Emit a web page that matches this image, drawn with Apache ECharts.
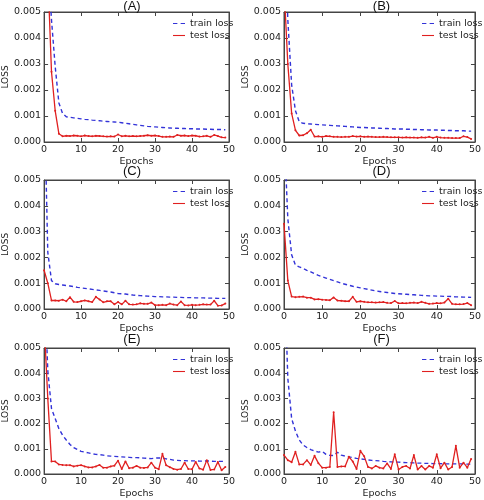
<!DOCTYPE html>
<html>
<head>
<meta charset="utf-8">
<script src="https://cdn.jsdelivr.net/npm/echarts@6/dist/echarts.min.js"></script>
<style>html,body{margin:0;padding:0;background:#fff}#c{width:484px;height:500px}</style>
</head>
<body>
<div id="c"></div>
<script>
const epochs = Array.from({length: 50}, (_, i) => i);
const panelTitles = ['(A)', '(B)', '(C)', '(D)', '(E)', '(F)'];
const xTicks = [0, 10, 20, 30, 40, 50];
const yTicks = [0.000, 0.001, 0.002, 0.003, 0.004, 0.005];

const trainA = [0.012,0.007,0.0047,0.0029,0.0015,0.0011,0.00097,0.00095,0.00093,0.00091,0.00089,0.00087,0.00086,0.00084,0.00083,0.00082,0.0008,0.00079,0.00078,0.00077,0.00076,0.00074,0.00072,0.0007,0.00068,0.00066,0.00064,0.00062,0.0006,0.00059,0.00058,0.00057,0.00056,0.00055,0.00054,0.00053,0.00053,0.00052,0.00052,0.00051,0.00051,0.0005,0.0005,0.0005,0.00049,0.00049,0.00048,0.00048,0.00048,0.00047];
const testA = [0.015,0.0065,0.0027,0.0012,0.00032,0.00022,0.00024,0.00023,0.00025,0.00024,0.00022,0.00025,0.00023,0.00022,0.00024,0.00023,0.00022,0.00021,0.00022,0.00021,0.00029,0.00022,0.00024,0.00022,0.00023,0.00022,0.00023,0.00024,0.00026,0.00024,0.00025,0.00023,0.0002,0.0002,0.00021,0.0002,0.00027,0.00024,0.00025,0.00023,0.00025,0.00024,0.00021,0.00022,0.00024,0.0002,0.00027,0.00023,0.00018,0.00017];

const trainB = [0.009,0.0047,0.0022,0.0012,0.00078,0.00072,0.0007,0.00069,0.00068,0.00067,0.00066,0.00065,0.00064,0.00063,0.00062,0.00061,0.0006,0.00059,0.00058,0.00057,0.00056,0.00056,0.00055,0.00054,0.00054,0.00053,0.00052,0.00052,0.00051,0.0005,0.0005,0.0005,0.00049,0.00049,0.00048,0.00048,0.00047,0.00047,0.00046,0.00046,0.00046,0.00045,0.00045,0.00044,0.00044,0.00043,0.00043,0.00043,0.00042,0.00042];
const testB = [0.006,0.003,0.0011,0.00045,0.00025,0.00026,0.00034,0.00047,0.00021,0.00022,0.0002,0.00023,0.00022,0.0002,0.0002,0.00019,0.0002,0.0002,0.00023,0.00021,0.00022,0.0002,0.00021,0.0002,0.00019,0.00019,0.0002,0.00019,0.00018,0.00018,0.00018,0.00017,0.00018,0.00017,0.00017,0.00016,0.00018,0.00017,0.0002,0.00016,0.0002,0.00017,0.00016,0.00016,0.00015,0.00015,0.00015,0.00022,0.00019,0.00012];

const trainC = [0.0085,0.0022,0.0011,0.00098,0.00095,0.00093,0.00091,0.00089,0.00087,0.00084,0.00082,0.0008,0.00078,0.00076,0.00074,0.00072,0.0007,0.00068,0.00066,0.00063,0.0006,0.00059,0.00058,0.00056,0.00054,0.00053,0.00052,0.00051,0.0005,0.00049,0.00048,0.00048,0.00047,0.00047,0.00046,0.00046,0.00045,0.00045,0.00044,0.00044,0.00044,0.00043,0.00043,0.00043,0.00042,0.00042,0.00042,0.00041,0.00041,0.00041];
const testC = [0.0015,0.001,0.00033,0.00033,0.00032,0.00036,0.0003,0.00046,0.00028,0.00027,0.0003,0.00033,0.0003,0.00027,0.00047,0.00037,0.00026,0.0003,0.0003,0.00018,0.00027,0.00018,0.00032,0.00018,0.00017,0.00018,0.00022,0.0002,0.0002,0.00025,0.00015,0.00015,0.00016,0.00015,0.00021,0.00017,0.00015,0.00029,0.00015,0.00014,0.00016,0.00015,0.00016,0.00018,0.00017,0.00017,0.00032,0.00013,0.00014,0.00021];

const trainD = [0.007,0.0035,0.0021,0.0017,0.00163,0.00157,0.0015,0.00144,0.00137,0.0013,0.00125,0.0012,0.00115,0.0011,0.00105,0.001,0.00096,0.00092,0.00088,0.00085,0.00082,0.00079,0.00076,0.00073,0.0007,0.00068,0.00066,0.00064,0.00062,0.0006,0.00059,0.00058,0.00057,0.00056,0.00055,0.00054,0.00053,0.00052,0.00051,0.00051,0.0005,0.0005,0.00049,0.00049,0.00048,0.00047,0.00047,0.00046,0.00046,0.00045];
const testD = [0.0033,0.0011,0.00048,0.00046,0.00047,0.00048,0.00044,0.00044,0.00037,0.00038,0.00036,0.00035,0.00034,0.00045,0.00033,0.00032,0.0003,0.0003,0.00047,0.00028,0.0003,0.00028,0.00026,0.00026,0.00025,0.00026,0.00027,0.00024,0.00023,0.00031,0.00022,0.00023,0.00022,0.00024,0.00025,0.00023,0.00028,0.00024,0.0002,0.00021,0.00023,0.00022,0.00025,0.0004,0.0002,0.00018,0.00018,0.00019,0.00023,0.00015];

const trainE = [0.008,0.0041,0.0026,0.0022,0.0018,0.00154,0.00135,0.00117,0.00105,0.00097,0.0009,0.00087,0.00084,0.0008,0.00078,0.00077,0.00075,0.00072,0.00071,0.0007,0.00069,0.00068,0.00067,0.00066,0.00065,0.00065,0.00064,0.00063,0.00062,0.00061,0.00063,0.00064,0.00063,0.0006,0.00058,0.00055,0.00054,0.00053,0.00053,0.00052,0.00052,0.00052,0.00051,0.00051,0.00052,0.00051,0.0005,0.0005,0.0005,0.0005];
const testE = [0.006,0.003,0.0005,0.0005,0.00038,0.00036,0.00035,0.00035,0.0003,0.00033,0.00035,0.0003,0.00026,0.00026,0.0003,0.00036,0.00025,0.00025,0.0003,0.00033,0.00053,0.0002,0.0005,0.00023,0.00025,0.00032,0.00025,0.00024,0.00026,0.00045,0.00025,0.00019,0.0008,0.00035,0.00027,0.0002,0.00017,0.0002,0.00045,0.0002,0.00019,0.00048,0.00022,0.00017,0.00055,0.00016,0.00018,0.00048,0.00015,0.00028];

const trainF = [0.0085,0.0038,0.0022,0.0017,0.00135,0.00115,0.00105,0.00097,0.00091,0.00087,0.0009,0.00078,0.00074,0.00073,0.00086,0.00075,0.00071,0.00068,0.00065,0.00062,0.0006,0.00058,0.00056,0.00054,0.00053,0.00052,0.0005,0.00049,0.00048,0.00047,0.00047,0.00046,0.00045,0.00045,0.00044,0.00043,0.00043,0.00042,0.00042,0.00041,0.00041,0.00041,0.0004,0.0004,0.0004,0.0004,0.0004,0.0004,0.00039,0.00039];
const testF = [0.00075,0.00055,0.00047,0.00088,0.00038,0.00038,0.00055,0.00036,0.00072,0.00043,0.00025,0.00025,0.00028,0.00245,0.00028,0.0003,0.0003,0.00068,0.0005,0.0002,0.00092,0.0007,0.00028,0.00022,0.00032,0.00025,0.00022,0.00042,0.0002,0.00078,0.00018,0.00028,0.00032,0.00022,0.00075,0.00018,0.00032,0.00018,0.00032,0.00025,0.00078,0.00023,0.00045,0.00018,0.00028,0.00112,0.00025,0.00045,0.00025,0.0006];

const trainSets = [trainA, trainB, trainC, trainD, trainE, trainF];
const testSets = [testA, testB, testC, testD, testE, testF];

const grids = [
  {left: 35, top: 12, width: 194, height: 130},
  {left: 284, top: 12, width: 195, height: 130},
  {left: 35, top: 180, width: 194, height: 129},
  {left: 284, top: 180, width: 195, height: 129},
  {left: 35, top: 348, width: 194, height: 130},
  {left: 284, top: 348, width: 195, height: 130}
];

const FONT = 'DejaVu Sans';
const axisCol = '#444';
const blue = '#3333d8';
const red = '#e02020';

const option = {
  animation: false,
  backgroundColor: '#fff',
  textStyle: {fontFamily: FONT},
  title: [], grid: [], xAxis: [], yAxis: [], series: [], legend: []
};

grids.forEach((g, i) => {
  option.grid.push({left: g.left, top: g.top, width: g.width, height: g.height, show: true, borderColor: axisCol, borderWidth: 1, containLabel: false});
  option.title.push({text: panelTitles[i], left: g.left + g.width / 2, top: Math.max(0, g.top - 15), textAlign: 'center', padding: 0,
    textStyle: {fontFamily: 'Liberation Sans', fontSize: 13, fontWeight: 'normal', color: '#111'}});
  option.xAxis.push({type: 'value', gridIndex: i, min: 0, max: 50, interval: 10, position: 'bottom',
    name: 'Epochs', nameLocation: 'middle', nameGap: 15,
    nameTextStyle: {fontFamily: FONT, fontSize: 9.5, color: '#222'},
    axisLine: {show: true, onZero: false, lineStyle: {color: axisCol}},
    axisTick: {show: true, inside: true, length: 4, lineStyle: {color: axisCol}},
    axisLabel: {show: true, fontSize: 9.5, color: '#222', margin: 3, fontFamily: FONT},
    splitLine: {show: false}});
  option.xAxis.push({type: 'value', gridIndex: i, min: 0, max: 50, interval: 10, position: 'top',
    axisLine: {show: true, onZero: false, lineStyle: {color: axisCol}},
    axisTick: {show: true, inside: true, length: 4, lineStyle: {color: axisCol}},
    axisLabel: {show: false}, splitLine: {show: false}});
  option.yAxis.push({type: 'value', gridIndex: i, min: 0, max: 0.005, interval: 0.001, position: 'left',
    name: 'LOSS', nameLocation: 'middle', nameGap: 30,
    nameTextStyle: {fontFamily: FONT, fontSize: 9, color: '#222'},
    axisLine: {show: true, onZero: false, lineStyle: {color: axisCol}},
    axisTick: {show: true, inside: true, length: 4, lineStyle: {color: axisCol}},
    axisLabel: {show: true, fontSize: 9.5, color: '#222', margin: 3, fontFamily: FONT,
      formatter: v => v.toFixed(3)},
    splitLine: {show: false}});
  option.yAxis.push({type: 'value', gridIndex: i, min: 0, max: 0.005, interval: 0.001, position: 'right',
    axisLine: {show: true, onZero: false, lineStyle: {color: axisCol}},
    axisTick: {show: true, inside: true, length: 4, lineStyle: {color: axisCol}},
    axisLabel: {show: false}, splitLine: {show: false}});

  const trainName = 'train loss' + '\u200b'.repeat(i);
  const testName = 'test loss' + '\u200b'.repeat(i);
  option.series.push({name: trainName, type: 'line', xAxisIndex: 2 * i, yAxisIndex: 2 * i,
    data: epochs.map((e, k) => [e, trainSets[i][k]]), showSymbol: false, symbol: 'none', clip: true,
    lineStyle: {color: blue, width: 1.4, type: [4, 3]}, itemStyle: {color: blue}, z: 3});
  option.series.push({name: testName, type: 'line', xAxisIndex: 2 * i, yAxisIndex: 2 * i,
    data: epochs.map((e, k) => [e, testSets[i][k]]), symbol: 'circle', symbolSize: 2, showSymbol: true, clip: true,
    lineStyle: {color: red, width: 1.3}, itemStyle: {color: red}, z: 4});
  option.legend.push({orient: 'vertical', left: g.left + 138, top: g.top + 6, itemGap: 1,
    itemWidth: 12, itemHeight: 2, itemStyle: {borderWidth: 0}, padding: 0,
    textStyle: {fontFamily: FONT, fontSize: 9.5, color: '#222', lineHeight: 11},
    data: [
      {name: trainName, icon: 'path://M0,0 L4,0 L4,1 L0,1 Z M7,0 L11,0 L11,1 L7,1 Z', itemStyle: {color: blue}},
      {name: testName, icon: 'path://M0,0 L11,0 L11,1 L0,1 Z', itemStyle: {color: red}}
    ],
    formatter: n => n.replace(/\u200b/g, ''),
    selectedMode: false});
});

const chart = echarts.init(document.getElementById('c'), null, {renderer: 'canvas'});
chart.setOption(option);
</script>
</body>
</html>
